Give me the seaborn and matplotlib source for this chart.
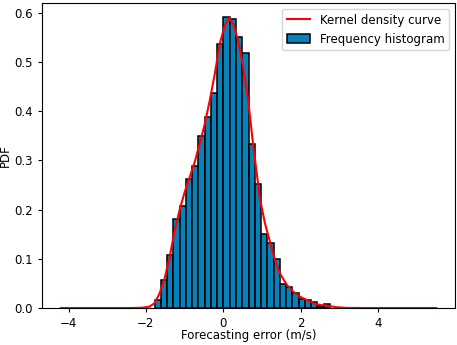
import matplotlib
matplotlib.use("Agg")
import matplotlib.pyplot as plt
import seaborn as sns
import numpy as np

# Histogram bin edges (m/s) and density heights
bin_edges = [-1.775, -1.613, -1.452, -1.290, -1.128, -0.967, -0.805, -0.643,
             -0.482, -0.320, -0.158, 0.003, 0.165, 0.327, 0.489, 0.650,
             0.812, 0.974, 1.135, 1.297, 1.459, 1.620, 1.782, 1.944,
             2.105, 2.267, 2.429, 2.590, 2.752]
bin_heights = [0.017, 0.057, 0.107, 0.180, 0.208, 0.263, 0.288, 0.349,
               0.388, 0.437, 0.537, 0.592, 0.588, 0.550, 0.518, 0.334,
               0.251, 0.151, 0.132, 0.099, 0.048, 0.043, 0.031, 0.019,
               0.016, 0.013, 0.005, 0.008]

# Kernel density curve points
kde_x = [-4.2, -3.0, -2.4, -2.1, -1.9, -1.775, -1.645, -1.516, -1.386, -1.256,
         -1.127, -0.997, -0.868, -0.738, -0.609, -0.479, -0.350, -0.220, -0.091,
         0.039, 0.150, 0.254, 0.383, 0.513, 0.642, 0.772, 0.946, 1.075, 1.205,
         1.334, 1.464, 1.64, 1.81, 1.98, 2.16, 2.33, 2.50, 2.67, 2.93, 3.19,
         3.6, 4.5, 5.5]
kde_y = [0.0, 0.0, 0.0, 0.0005, 0.003, 0.010, 0.030, 0.060, 0.104, 0.158,
         0.200, 0.236, 0.266, 0.297, 0.334, 0.374, 0.422, 0.476, 0.537,
         0.574, 0.589, 0.577, 0.543, 0.489, 0.422, 0.330, 0.222, 0.172, 0.134,
         0.097, 0.070, 0.047, 0.033, 0.023, 0.016, 0.010, 0.006, 0.005, 0.0015, 0.0003,
         0.0, 0.0, 0.0]

bin_centers = [(a + b) / 2 for a, b in zip(bin_edges[:-1], bin_edges[1:])]

plt.rcParams["font.size"] = 8.5
plt.rcParams["xtick.major.size"] = 3
plt.rcParams["ytick.major.size"] = 3

fig = plt.figure(figsize=(4.57, 3.45), dpi=100)
ax = fig.add_axes([42/457, 1 - 308/345, (455 - 42)/457, (308 - 3)/345])

sns.histplot(x=bin_centers, weights=bin_heights, bins=bin_edges, stat="count",
             color="#0482b9", alpha=1.0, edgecolor="black", linewidth=1.1,
             ax=ax, label="Frequency histogram")
sns.lineplot(x=kde_x, y=kde_y, color="red", linewidth=1.5, ax=ax,
             label="Kernel density curve", sort=False)

ax.set_xlim(-4.685, 5.985)
ax.set_ylim(0, 0.6195)
ax.set_xticks([-4, -2, 0, 2, 4])
ax.set_xlabel("Forecasting error (m/s)", labelpad=-1)
ax.set_ylabel("PDF")
ax.yaxis.set_label_coords(-0.072, 0.5)

handles, labels = ax.get_legend_handles_labels()
order = [labels.index("Kernel density curve"), labels.index("Frequency histogram")]
ax.legend([handles[i] for i in order], [labels[i] for i in order], loc="upper right")

fig.savefig("out.png", dpi=100)
